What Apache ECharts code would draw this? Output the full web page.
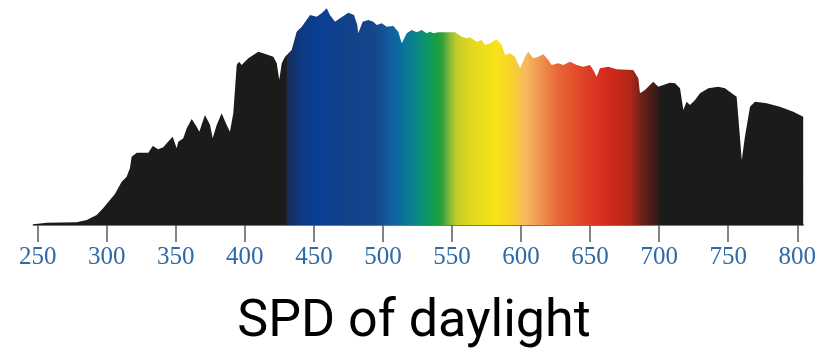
<!DOCTYPE html>
<html>
<head>
<meta charset="utf-8">
<title>SPD of daylight</title>
<script src="https://cdn.jsdelivr.net/npm/echarts@6/dist/echarts.min.js"></script>
<style>
  html, body { margin: 0; padding: 0; background: #ffffff; }
  #chart { width: 828px; height: 351px; }
</style>
</head>
<body>
<div id="chart"></div>
<script>
// Wavelength samples (nm) of the daylight spectrum
const wavelengths = [
  246.8, 256.5, 278.2, 285.5, 292.7, 297.5, 302.3, 305.9, 310.8, 314.4,
  316.8, 318.0, 321.7, 330.1, 333.3, 337.3, 340.9, 343.4, 347.7, 350.6,
  351.8, 355.4, 357.9, 361.5, 365.1, 367.0, 371.1, 374.8, 376.7, 379.6,
  383.2, 386.8, 389.2, 391.6, 394.1, 395.8, 397.7, 398.9, 402.5, 409.7,
  413.3, 420.6, 423.1, 424.9, 426.7, 429.1, 433.9, 437.5, 441.2, 447.2,
  452.0, 455.6, 459.3, 461.6, 465.3, 468.9, 474.9, 479.0, 481.4, 482.1,
  485.3, 489.4, 493.0, 495.5, 499.1, 502.7, 507.5, 511.1, 513.6, 517.2,
  520.8, 524.4, 528.0, 531.7, 534.1, 536.4, 540.1, 552.2, 557.0, 560.6,
  563.0, 567.9, 571.5, 573.9, 577.5, 582.3, 586.0, 588.4, 592.0, 595.6,
  599.3, 602.9, 605.2, 608.8, 612.5, 616.1, 619.7, 622.2, 626.9, 630.6,
  635.4, 640.3, 645.0, 649.9, 652.3, 654.7, 657.1, 663.1, 669.2, 681.2,
  684.9, 686.1, 689.7, 695.7, 699.4, 703.0, 707.8, 711.5, 715.1, 717.5,
  719.9, 722.3, 726.0, 729.6, 735.6, 742.8, 747.7, 752.5, 756.1, 757.3,
  759.8, 762.1, 765.8, 769.4, 777.8, 787.4, 797.1, 804.3
];

// Relative spectral power at each wavelength
const power = [
  0.7, 2.3, 2.7, 5, 10, 17, 25, 31, 43.3, 48.3,
  57, 68.3, 72.3, 72.3, 79, 75.7, 77.7, 81.7, 88.3, 76.7,
  83.3, 86.7, 96.7, 106, 98.3, 93.3, 110, 100, 86.7, 100,
  111.7, 100, 93.3, 111.7, 160, 163.3, 160, 160, 166.7, 173.3,
  171.7, 168.3, 161.7, 145, 161.7, 168.3, 175, 193.3, 198.3, 210,
  208.3, 211.7, 216.7, 210, 203.3, 206.7, 212.3, 210, 200, 191.7,
  203.3, 205, 203.3, 200, 201.7, 198.3, 199, 193.3, 181.7, 191.7,
  195, 192.7, 195, 191.7, 193.3, 191.7, 192.7, 192.7, 188.3, 186.7,
  187.7, 183.3, 185, 180, 181.7, 185.7, 180, 170, 171.7, 168.3,
  156.7, 168.3, 173.3, 166.7, 168.3, 170.7, 165, 160, 161.7, 160,
  163.3, 160, 158.3, 160, 155, 148.3, 156.7, 158.3, 155.7, 155,
  146.7, 131.7, 135, 143.3, 138.3, 140, 142.3, 141.7, 136.7, 115,
  123.3, 120, 125, 131.7, 136.7, 138.3, 136.7, 131.7, 128.3, 108.3,
  65, 88.3, 118.3, 123.3, 121.7, 118.3, 113.3, 108.3
];

// Labelled ticks along the wavelength axis
const tickLabels = [250, 300, 350, 400, 450, 500, 550, 600, 650, 700, 750, 800];

// Fill colour across the spectrum: [wavelength, colour]
const spectrumColors = [
  [430.0, '#1b1b1b'],
  [430.4, '#1b2a52'],
  [440, '#0e3a80'],
  [454, '#0a3f95'],
  [474, '#12418a'],
  [493, '#15458a'],
  [507, '#1060a0'],
  [517, '#0a7898'],
  [526, '#0a8a80'],
  [534, '#10985a'],
  [539, '#18a040'],
  [543, '#30a040'],
  [548, '#80b838'],
  [553, '#c0cc28'],
  [563, '#e0d820'],
  [582, '#f8e418'],
  [594, '#f8d030'],
  [604, '#f5b860'],
  [613, '#f09850'],
  [626, '#e86838'],
  [642, '#e04828'],
  [657, '#d83020'],
  [666, '#d02818'],
  [679, '#b02818'],
  [688, '#6a2018'],
  [698, '#3a1a18'],
  [701, '#1b1b1b']
];

const wlFirst = wavelengths[0];
const wlLast = wavelengths[wavelengths.length - 1];

// Gradient stops placed by wavelength along the filled area
const stops = [{ offset: 0, color: '#1b1b1b' }].concat(
  spectrumColors.map(([wl, color]) => ({
    offset: (wl - wlFirst) / (wlLast - wlFirst),
    color
  })),
  [{ offset: 1, color: '#1b1b1b' }]
);

const chart = echarts.init(document.getElementById('chart'), null, { renderer: 'canvas' });

chart.setOption({
  animation: false,
  backgroundColor: '#ffffff',
  title: {
    text: 'SPD of daylight',
    left: 'center',
    top: 292,
    textStyle: {
      fontFamily: 'Roboto',
      fontSize: 52,
      fontWeight: 'normal',
      color: '#000000'
    }
  },
  grid: { left: 33.3, right: 24.8, top: 5, bottom: 126 },
  xAxis: {
    type: 'value',
    min: wlFirst,
    max: wlLast,
    splitLine: { show: false },
    axisLine: { show: true, lineStyle: { color: '#4a4a4a', width: 1.5 } },
    axisTick: {
      show: true,
      customValues: tickLabels,
      length: 17,
      lineStyle: { color: '#5a5a5a', width: 1.5 }
    },
    axisLabel: {
      customValues: tickLabels,
      margin: 20,
      color: '#2e6aa9',
      fontFamily: 'Liberation Serif',
      fontSize: 25
    }
  },
  yAxis: {
    type: 'value',
    min: 0,
    max: 220,
    show: false
  },
  series: [{
    type: 'line',
    data: wavelengths.map((wl, i) => [wl, power[i]]),
    showSymbol: false,
    symbol: 'none',
    lineStyle: { width: 0, opacity: 0 },
    areaStyle: {
      opacity: 1,
      color: new echarts.graphic.LinearGradient(0, 0, 1, 0, stops)
    },
    z: 1
  }]
});
</script>
</body>
</html>
